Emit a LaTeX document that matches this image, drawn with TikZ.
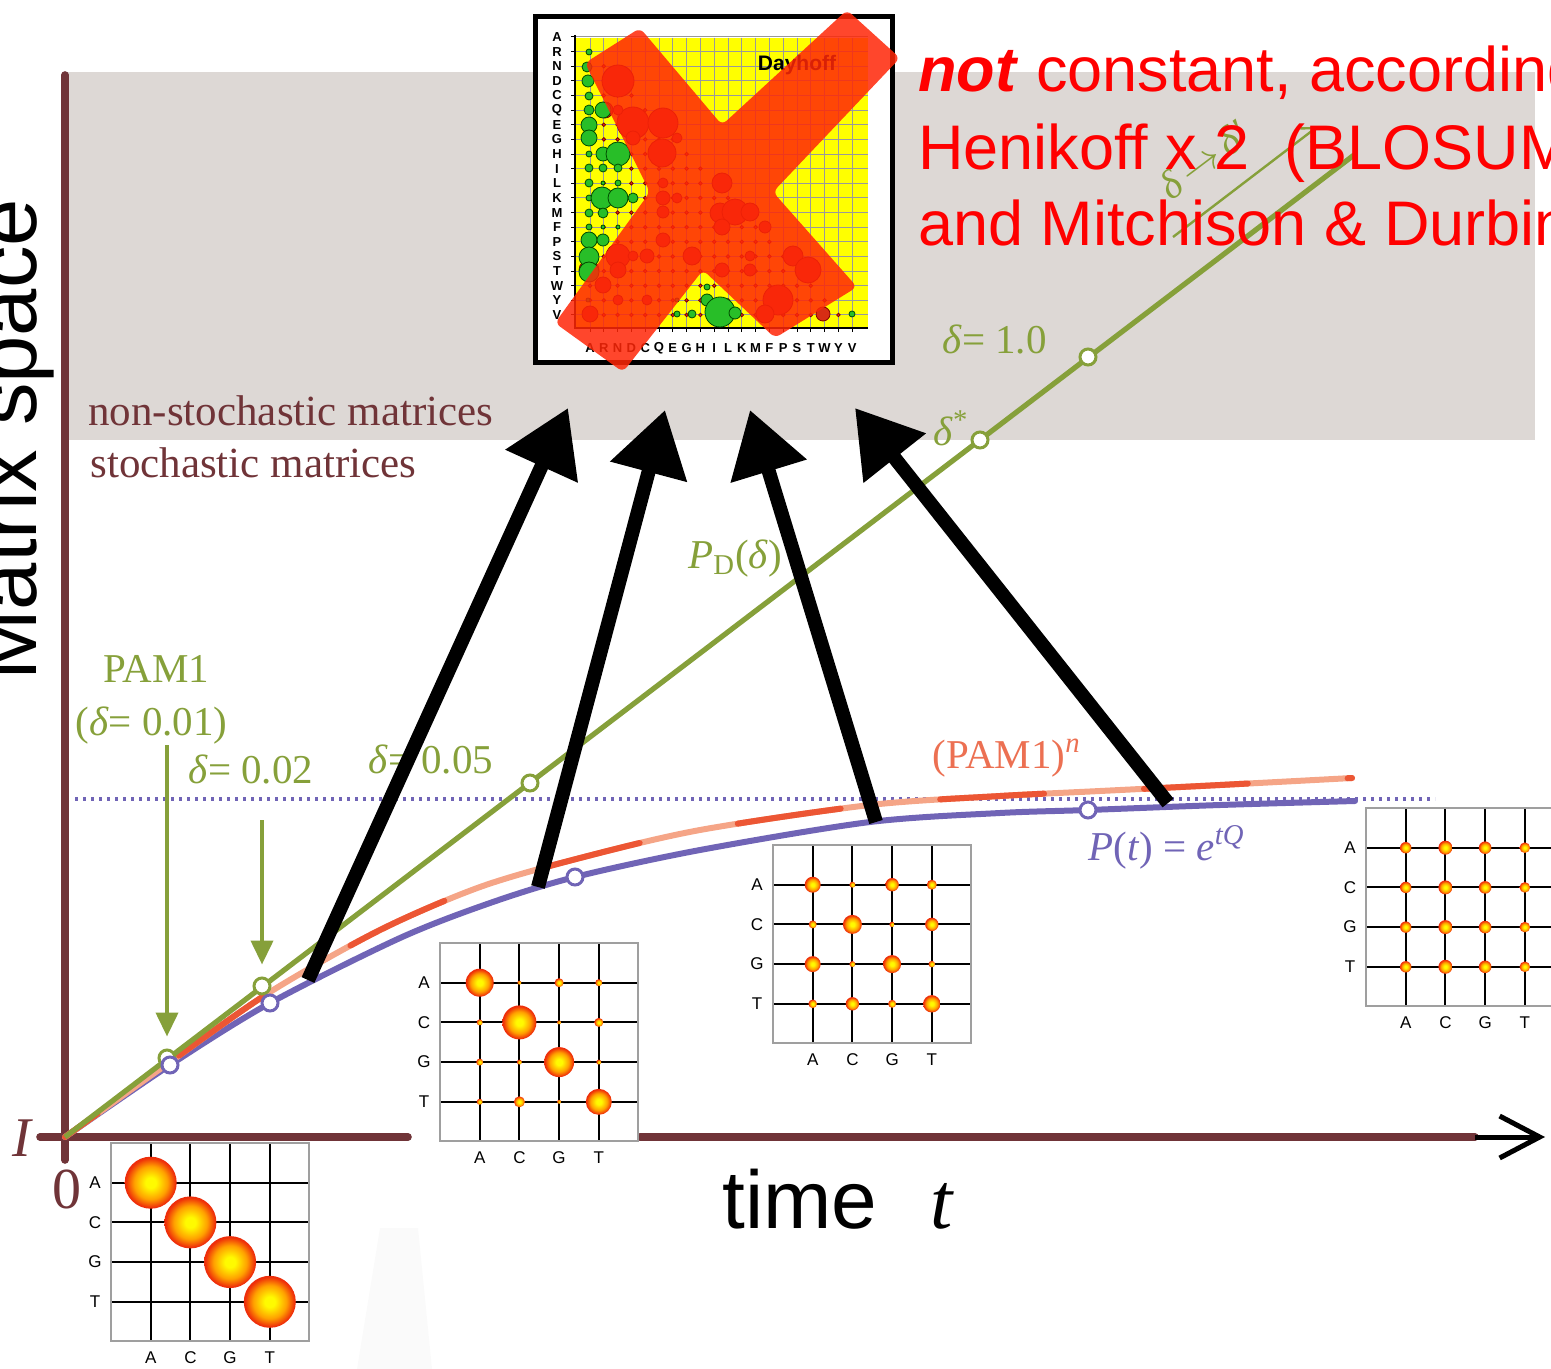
\documentclass[tikz,border=0pt]{standalone}
\usepackage{fontspec}
\setmainfont{Liberation Serif}
\setsansfont{Liberation Sans}
\usetikzlibrary{arrows.meta, positioning}

\definecolor{axisbrown}{RGB}{112,52,56}
\definecolor{bandgray}{RGB}{221,216,213}
\definecolor{pdgreen}{RGB}{134,160,58}
\definecolor{ptblue}{RGB}{112,100,182}
\definecolor{pamred}{RGB}{236,86,52}
\definecolor{pamsalmon}{RGB}{245,165,135}
\definecolor{pamlabel}{RGB}{236,112,82}
\definecolor{notered}{RGB}{255,0,0}
\definecolor{crossred}{RGB}{255,38,8}
\definecolor{dayyellow}{RGB}{255,255,0}
\definecolor{bubgreen}{RGB}{40,190,40}
\definecolor{bubred}{RGB}{215,45,20}
\definecolor{ballyellow}{RGB}{255,250,0}
\definecolor{ballorange}{RGB}{255,160,0}
\definecolor{ballred}{RGB}{238,45,10}
\pgfdeclareradialshading{pamball}{\pgfpointorigin}{color(0bp)=(ballyellow); color(5bp)=(ballyellow); color(16bp)=(ballorange); color(24bp)=(ballred); color(50bp)=(ballred)}

% one 4x4 substitution matrix: name, left, top, bubbles col/row/radius
\newcommand{\acgtmatrix}[4]{%
  \begin{scope}[shift={(#2,#3)}]
    \node[mbox] (#1) at (99,99) {};
    \foreach \k/\b in {1/A,2/C,3/G,4/T} {
      \draw[mgrid] (39.7*\k,0) -- (39.7*\k,198);
      \draw[mgrid] (0,39.7*\k) -- (198,39.7*\k);
      \node[mlabel] (#1-row\b) at (-16,39.7*\k) {\b};
      \node[mlabel] (#1-col\b) at (39.7*\k,215) {\b};
    }
    \foreach \c/\r/\s in {#4}
      \shade[shading=pamball] (39.7*\c,39.7*\r) circle[radius=\s];
    \draw[mborder] (0,0) rectangle (198,198);
  \end{scope}}

\begin{document}
\begin{tikzpicture}[x=0.5pt, y=-0.5pt]
\tikzset{
  axis/.style={draw=axisbrown, line width=3.8pt, line cap=round},
  pdline/.style={draw=pdgreen, line width=2.6pt},
  ptline/.style={draw=ptblue, line width=3pt, line cap=round},
  pamline/.style={draw=pamsalmon, line width=3pt, line cap=round,
    postaction={draw=pamred, line width=3pt, dash pattern=on 52pt off 50pt, dash phase=-70pt}},
  gdot/.style={circle, draw=pdgreen, fill=white, line width=1.5pt, minimum size=8pt, inner sep=0},
  bdot/.style={circle, draw=ptblue, fill=white, line width=1.5pt, minimum size=8pt, inner sep=0},
  garrow/.style={draw=pdgreen, line width=2pt, shorten >=6pt, -{Triangle[length=12pt,width=11pt]}},
  bigarrow/.style={draw=black, line width=7pt, -{Triangle[length=32pt,width=38pt]}},
  lbl/.style={inner sep=0, anchor=base west},
  glabel/.style={lbl, text=pdgreen, font=\fontsize{20.5}{24}\selectfont},
  bandlabel/.style={lbl, text=axisbrown, font=\fontsize{21.5}{25}\selectfont},
  note/.style={lbl, text=notered, font=\sffamily\fontsize{31.5}{38}\selectfont},
  mbox/.style={fill=white, minimum size=99pt, inner sep=0},
  mgrid/.style={draw=black, line width=1pt},
  mborder/.style={draw=gray!75, line width=1pt},
  mlabel/.style={inner sep=0, font=\sffamily\fontsize{8.5}{10}\selectfont},
  daygrid/.style={draw=gray!80, line width=0.5pt},
  daylabel/.style={inner sep=0, font=\sffamily\bfseries\fontsize{6.5}{7}\selectfont},
  gbub/.style={fill=bubgreen, draw=green!30!black, line width=0.4pt},
  rbub/.style={fill=bubred, draw=red!50!black, line width=0.4pt},
}
\useasboundingbox (0,0) rectangle (1551,1369);

% background band and axes
\fill[bandgray] (68,72) rectangle (1535,440);
\fill[gray!4] (380,1228) -- (418,1228) -- (432,1369) -- (357,1369) -- cycle;
\node[rotate=90, anchor=base, inner sep=0, font=\sffamily\fontsize{42.5}{50}\selectfont] (yaxis) at (36,440) {Matrix space};
\node[bandlabel] (nonstoch) at (88,425) {non-stochastic matrices};
\node[bandlabel] (stoch) at (90,477) {stochastic matrices};

\coordinate (origin) at (65,1137);
\coordinate (ytop) at (65,75);
\coordinate (ybot) at (65,1160);
\coordinate (xl) at (40,1137);
\coordinate (xgap1) at (408,1137);
\coordinate (xgap2) at (640,1137);
\coordinate (xend) at (1475,1137);
\coordinate (xtip) at (1545,1137);
\draw[axis] (ytop) -- (ybot);
\draw[axis] (xl) -- (xgap1);
\draw[axis] (xgap2) -- (xend);
\draw[line width=2.5pt, -{Straight Barb[length=20pt,width=21pt]}] (xend) -- (xtip);
\node[lbl, text=axisbrown, font=\fontsize{29}{32}\selectfont] (zero) at (52,1208) {0};
\node[lbl, text=axisbrown, font=\itshape\fontsize{28}{32}\selectfont] (ident) at (12,1156) {I};
\node[lbl, font=\sffamily\fontsize{41}{48}\selectfont] (timelbl) at (722,1228) {time};
\node[lbl, font=\itshape\fontsize{40}{48}\selectfont] (tlbl) at (930,1228) {t};

% stationary level
\coordinate (dotl) at (75,799);
\coordinate (dotr) at (1435,799);
\draw[ptblue, line width=1.8pt, dash pattern=on 1.6pt off 2.4pt] (dotl) -- (dotr);

% curves
\draw[ptline] plot[smooth] coordinates {(65,1137) (170,1065) (270,1003) (400,938) (490,903) (575,877) (700,850) (870,822) (1000,813) (1088,810) (1220,805) (1355,801)};
\draw[pamline] plot[smooth] coordinates {(65,1137) (170,1062) (270,992) (380,930) (480,887) (580,858) (700,830) (870,805) (1000,796) (1100,791) (1220,785) (1352,778)};
\coordinate (pdend) at (1354,155);
\draw[pdline] (origin) -- (pdend);

\node[gdot] (g1) at (167,1058) {};
\node[gdot] (g2) at (262,986) {};
\node[gdot] (g5) at (530,783) {};
\node[gdot] (gstar) at (980,440) {};
\node[gdot] (g100) at (1088,357) {};
\node[bdot] (b1) at (170,1065) {};
\node[bdot] (b2) at (270,1003) {};
\node[bdot] (b3) at (575,877) {};
\node[bdot] (b4) at (1088,810) {};

\coordinate (pam1top) at (167,745);
\coordinate (pam2top) at (262,820);
\draw[garrow] (pam1top) -- (g1);
\draw[garrow] (pam2top) -- (g2);

\coordinate (dstart) at (1173,237);
\coordinate (dend) at (1317,127);
\draw[pdgreen, line width=1.2pt, -{Straight Barb[length=6pt,width=9pt]}] (dstart) -- (dend);
\node[rotate=37, inner sep=0, text=pdgreen, font=\itshape\fontsize{20}{24}\selectfont] (dshift) at (1203,160) {δ\,$\rightarrow$\,δ′};

\node[glabel] (lpam1) at (103,682) {PAM1};
\node[glabel] (ld001) at (75,735) {(\textit{δ}= 0.01)};
\node[glabel] (ld002) at (188,783) {\textit{δ}= 0.02};
\node[glabel] (ld005) at (368,773) {\textit{δ}= 0.05};
\node[glabel] (ld1) at (942,353) {\textit{δ}= 1.0};
\node[glabel] (ldstar) at (933,445) {\textit{δ}\textsuperscript{*}};
\node[glabel] (lpd) at (688,568) {\textit{P}\textsubscript{D}(\textit{δ})};
\node[glabel, text=pamlabel] (lpamn) at (932,768) {(PAM1)\textsuperscript{\textit{n}}};
\node[glabel, text=ptblue] (lpt) at (1088,860) {\textit{P}(\textit{t}) = \textit{e}\textsuperscript{\textit{tQ}}};

% substitution matrices along the curve
\acgtmatrix{pam0}{111}{1143}{1/1/26, 2/2/26, 3/3/26, 4/4/26}
\acgtmatrix{pam1}{440}{943}{1/1/14, 2/1/2, 3/1/4.5, 4/1/3.5, 1/2/3, 2/2/17, 3/2/2, 4/2/4.5, 1/3/3.5, 2/3/2.5, 3/3/15, 4/3/2.5, 1/4/3, 2/4/5.5, 3/4/2, 4/4/13}
\acgtmatrix{pam2}{773}{845}{1/1/8, 2/1/3, 3/1/6.7, 4/1/5, 1/2/4, 2/2/9.5, 3/2/2.7, 4/2/6.7, 1/3/8, 2/3/3, 3/3/9, 4/3/3.3, 1/4/4.3, 2/4/6.7, 3/4/4, 4/4/8.7}
\acgtmatrix{pam3}{1366}{808}{1/1/5.7, 2/1/7, 3/1/6.3, 4/1/5.3, 1/2/5.7, 2/2/7, 3/2/6.3, 4/2/5.3, 1/3/5.7, 2/3/7, 3/3/6.3, 4/3/5.3, 1/4/5.7, 2/4/7, 3/4/6.3, 4/4/5.3}

% Dayhoff matrix
\node[draw, line width=2.5pt, fill=white, minimum width=178.5pt, minimum height=173pt, inner sep=0] (dayhoff) at (714,189.5) {};
\fill[dayyellow] (575,38) rectangle (868,328);
\foreach \k in {0,...,19} {
  \draw[daygrid] (590+13.8*\k,38) -- (590+13.8*\k,328);
  \draw[daygrid] (575,37+14.63*\k) -- (868,37+14.63*\k);
  \draw[line width=0.5pt] (571,37+14.63*\k) -- (575,37+14.63*\k);
  \draw[line width=0.5pt] (590+13.8*\k,328) -- (590+13.8*\k,332);
}
\draw[line width=0.6pt] (575,35) -- (575,328) -- (868,328);
\foreach \b [count=\k from 0] in {A,R,N,D,C,Q,E,G,H,I,L,K,M,F,P,S,T,W,Y,V} {
  \node[daylabel] (day-r\k) at (557,37+14.63*\k) {\b};
  \node[daylabel] (day-c\k) at (590+13.8*\k,348) {\b};
}
\foreach \r in {1,...,19}
  \foreach \c in {0,...,18} {
    \ifnum\c<\r \filldraw[rbub] (590+13.8*\c,37+14.63*\r) circle[radius=1.8];\fi
  }
\foreach \x/\y/\s in {618/81/16, 633/123/16, 663/123/15, 662/153/14, 605/110/8, 618/110/5, 633/138/7, 677/138/5, 722/183/10, 720/213/10, 735/212/13, 750/212/9, 722/227/8, 765/227/6, 793/256/10, 808/270/13, 778/300/15, 765/314/9, 823/314/7, 618/256/12, 589/270/10, 603/285/8, 618/270/8, 590/314/8, 692/256/9, 663/240/7, 663/198/7, 663/183/5, 677/198/5, 663/212/6, 722/270/7, 750/256/5, 750/270/6, 647/256/7, 633/256/5, 647/300/5, 618/300/5}
  \filldraw[rbub] (\x,\y) circle[radius=\s];
\foreach \x/\y/\s in {589/52/3, 587/67/5, 588/81/6, 589/96/4, 589/110/5, 589/125/8, 589/138/8, 589/154/3, 589/168/4, 589/183/4, 589/198/3, 589/213/4, 589/227/3, 589/240/8, 589/257/10, 589/272/10, 603/110/8, 603/154/7, 618/154/12, 603/168/4, 618/168/4, 603/183/2, 618/183/3, 602/198/11, 618/198/10, 633/198/5, 603/213/5, 603/240/6, 618/227/2, 603/227/2, 588/300/2, 677/300/2, 707/287/3, 707/300/6, 720/312/15, 677/314/3, 692/314/4, 852/314/3, 735/313/6}
  \filldraw[gbub] (\x,\y) circle[radius=\s];
\node[inner sep=0, font=\sffamily\bfseries\fontsize{10.5}{12}\selectfont] (daytitle) at (797,65) {Dayhoff};

% arrows from the curves up to the matrix
\coordinate (src1) at (308,980);   \coordinate (tip1) at (568,408);
\coordinate (src2) at (538,887);   \coordinate (tip2) at (665,410);
\coordinate (src3) at (876,822);   \coordinate (tip3) at (750,410);
\coordinate (src4) at (1168,803);  \coordinate (tip4) at (855,408);
\draw[bigarrow] (src1) -- (tip1);
\draw[bigarrow] (src2) -- (tip2);
\draw[bigarrow] (src3) -- (tip3);
\draw[bigarrow] (src4) -- (tip4);

% red cross over the matrix
\fill[crossred, fill opacity=0.85, rounded corners=3pt] (585,63) -- (640,28) -- (722,125) -- (847,10) -- (900,58) -- (773,192) -- (857,287) -- (775,338) -- (703,270) -- (623,372) -- (555,323) -- (650,192) -- cycle;

% note
\node[note] (note1) at (918,92) {\textbf{\textit{not}} constant, according};
\node[note] (note2) at (918,170) {Henikoff x 2~~(BLOSUM};
\node[note] (note3) at (918,246) {and Mitchison \& Durbin};
\end{tikzpicture}
\end{document}
